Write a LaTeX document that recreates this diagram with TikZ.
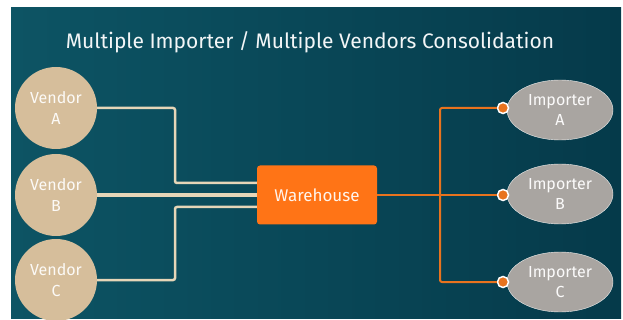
\documentclass[tikz,border=0pt]{standalone}
\usepackage{fontspec}
\setmainfont{Fira Sans}
\usetikzlibrary{shapes.geometric}
\definecolor{deepteal}{HTML}{0D5464}
\definecolor{darkteal}{HTML}{053A4A}
\definecolor{sand}{HTML}{D6BE9B}
\definecolor{sandline}{HTML}{E6D6B8}
\definecolor{stone}{HTML}{A9A5A1}
\definecolor{tangerine}{HTML}{FF7416}
\definecolor{rust}{HTML}{E8731E}

\begin{document}
\begin{tikzpicture}[x=1pt, y=-1pt,
    vendor/.style={circle, fill=sand, minimum size=82pt, inner sep=0pt, align=center,
      text=white!92!sand, font=\fontsize{16}{21}\selectfont},
    importer/.style={ellipse, fill=stone, draw=white!80!stone, minimum width=106pt,
      minimum height=60pt, inner sep=0pt, align=center, text=white!95!stone,
      font=\fontsize{16}{20}\selectfont},
    depot/.style={rectangle, rounded corners=3pt, fill=tangerine, minimum width=120pt,
      minimum height=59pt, text=white!92!tangerine, font=\fontsize{17}{20}\selectfont},
    dot/.style={circle, fill=rust, draw=white, line width=1.5pt, minimum size=11pt, inner sep=0pt},
    feed/.style={sandline, line width=2.5pt, rounded corners=2pt},
    tie/.style={rust, line width=2pt, rounded corners=2pt}]
  % background panel
  \fill[white] (0,0) rectangle (623,320);
  \shade[left color=deepteal, right color=darkteal] (11,8) rectangle (621,318);
  \useasboundingbox (0,0) rectangle (623,320);

  \node[text=white!95!deepteal, font=\fontsize{21}{24}\selectfont] (title) at (310,42)
    {Multiple Importer / Multiple Vendors Consolidation};

  % suppliers on the left
  \node[vendor] (va) at (56,108) {Vendor\\A};
  \node[vendor] (vb) at (56,195) {Vendor\\B};
  \node[vendor] (vc) at (56,280) {Vendor\\C};

  \node[depot] (wh) at (317,195) {Warehouse};

  % consignees on the right
  \node[importer] (ia) at (560,110) {Importer\\A};
  \node[importer] (ib) at (560,194) {Importer\\B};
  \node[importer] (ic) at (560,282) {Importer\\C};

  \node[dot] (da) at (503,108) {};
  \node[dot] (db) at (503,195) {};
  \node[dot] (dc) at (503,282) {};

  \draw[feed] (va.east) -- (175,108) |- ([yshift=12pt]wh.west);
  \draw[feed, line width=4.5pt] (vb.east) -- (wh.west);
  \draw[feed] (vc.east) -- (175,280) |- ([yshift=-12pt]wh.west);

  \coordinate (split) at (440,195);
  \draw[tie] (wh.east) -- (split);
  \draw[tie] (split) |- (da.west);
  \draw[tie] (split) -- (db.west);
  \draw[tie] (split) |- (dc.west);
\end{tikzpicture}
\end{document}
